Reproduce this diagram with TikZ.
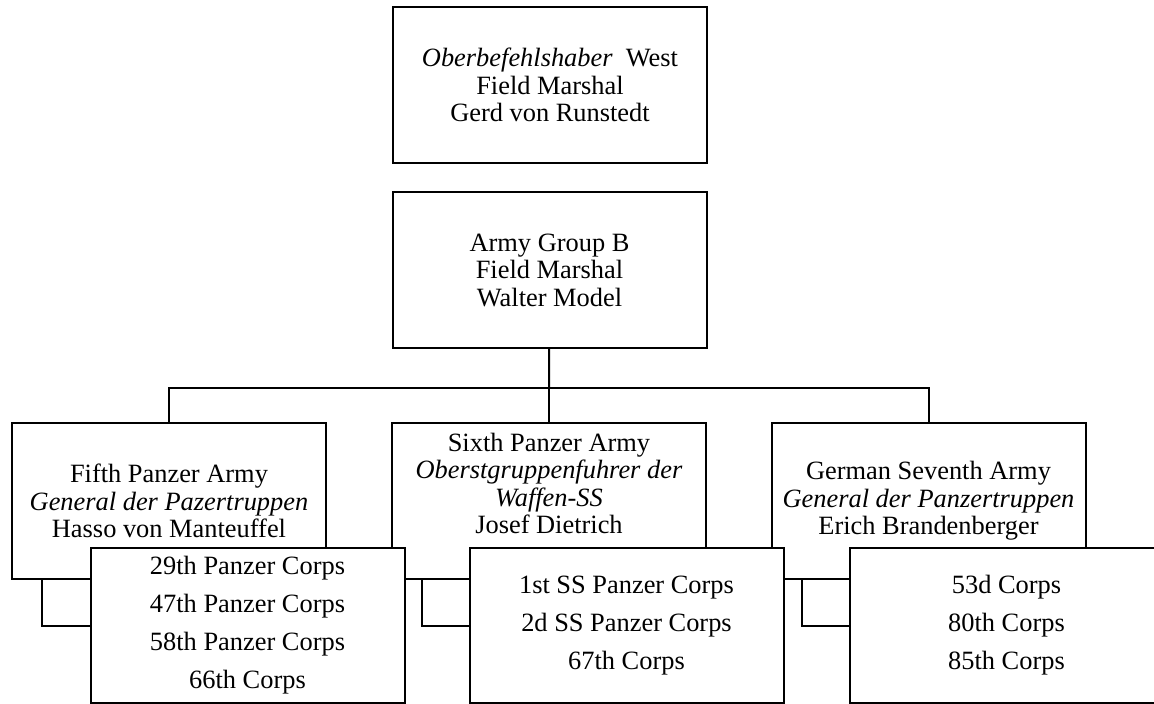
\documentclass[tikz,border=0pt]{standalone}
\usepackage{fontspec}
\setmainfont{Liberation Serif}

\begin{document}
\begin{tikzpicture}
  [x=1pt,y=-1pt,line width=2pt,
   every node/.style={draw,rectangle,align=center,inner sep=0pt,
     minimum width=314pt,minimum height=156pt,
     font=\fontsize{26.4}{27.5}\selectfont},
   corps/.style={fill=white,minimum height=155pt,
     font=\fontsize{26.4}{38}\selectfont}]
  \clip (0,0) rectangle (1154,704);
  \node (obw) at (550,85) {\textit{Oberbefehlshaber}\ \ West\\Field Marshal\\Gerd von Runstedt};
  \node (agb) at (549.5,270) {Army Group B\\Field Marshal\\Walter Model};
  \node (fifth) at (169,501) {Fifth Panzer Army\\\textit{General der Pazertruppen}\\Hasso von Manteuffel};
  \node (sixth) at (549,501) {Sixth Panzer Army\\\textit{Oberstgruppenfuhrer der}\\\textit{Waffen-SS}\\Josef Dietrich\\\strut};
  \node (seventh) at (928.5,501) {German Seventh Army\\\textit{General der Panzertruppen}\\Erich Brandenberger};
  \coordinate (bus) at (549,388);
  \draw (agb) -- (bus);
  \foreach \to in {fifth,sixth,seventh}
    \draw (bus) -| (\to);
  \node[corps] (c5) at (247.5,625.5) {29th Panzer Corps\\47th Panzer Corps\\58th Panzer Corps\\66th Corps};
  \node[corps] (c6) at (626.5,625.5) {1st SS Panzer Corps\\2d SS Panzer Corps\\67th Corps};
  \node[corps] (c7) at (1006.5,625.5) {53d Corps\\80th Corps\\85th Corps};
  \foreach \from/\to in {fifth/c5,sixth/c6,seventh/c7}
    \draw ([xshift=31pt]\from.south west) |- (\to);
\end{tikzpicture}
\end{document}
